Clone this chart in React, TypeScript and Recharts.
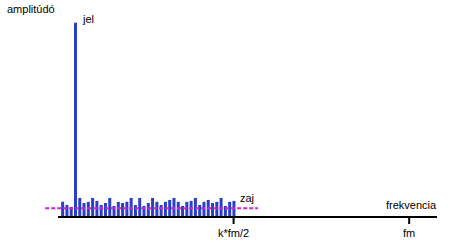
import React from 'react';
import { BarChart, Bar, XAxis, YAxis, ReferenceLine } from 'recharts';

// Spectrum bins (index 1..41); bin 4 carries the signal ("jel"), the rest is noise ("zaj")
const amplitudes = [
  0.078, 0.062, 0.052, 1.0, 0.098, 0.072, 0.078, 0.098, 0.083, 0.062,
  0.072, 0.098, 0.057, 0.078, 0.072, 0.078, 0.098, 0.062, 0.098, 0.057,
  0.072, 0.098, 0.078, 0.062, 0.078, 0.088, 0.098, 0.078, 0.057, 0.078,
  0.083, 0.098, 0.062, 0.078, 0.088, 0.072, 0.078, 0.098, 0.057, 0.078,
  0.083,
];
const tickValues = [41, 82];
const tickLabels = ['k*fm/2', 'fm'];
const noiseLevel = 0.045;
const noiseSpan = [-3, 46.7];

const data = amplitudes.map((a, i) => ({ bin: i + 1, amp: a }));

const font = '"Liberation Sans", Arial, sans-serif';

const labelStyle: React.CSSProperties = {
  position: 'absolute',
  fontFamily: font,
  fontSize: 11,
  lineHeight: '13px',
  color: '#000',
  whiteSpace: 'nowrap',
};

export default function App() {
  return (
    <div style={{ position: 'absolute', left: 0, top: 0, width: 449, height: 245, background: '#fff' }}>
      <BarChart
        width={449}
        height={245}
        data={data}
        margin={{ top: 13, right: 12, left: 58, bottom: 8 }}
        barSize={3}
      >
        <XAxis
          dataKey="bin"
          type="number"
          domain={[0, 88.5]}
          ticks={tickValues}
          tickFormatter={(v: number) => tickLabels[tickValues.indexOf(v)] ?? ''}
          axisLine={{ stroke: '#000', strokeWidth: 2 }}
          tickLine={{ stroke: '#000', strokeWidth: 2 }}
          tickSize={7}
          tickMargin={5}
          height={20}
          tick={{ fill: '#000', fontSize: 11, fontFamily: font }}
          allowDataOverflow
        />
        <YAxis
          domain={[0, 1.05]}
          width={0}
          tick={false}
          tickLine={false}
          axisLine={{ stroke: '#000', strokeWidth: 2 }}
          allowDataOverflow
        />
        <Bar dataKey="amp" fill="#2a3fc4" isAnimationActive={false} />
        <ReferenceLine
          segment={[
            { x: noiseSpan[0], y: noiseLevel },
            { x: noiseSpan[1], y: noiseLevel },
          ]}
          stroke="#d024d0"
          strokeWidth={2}
          strokeDasharray="4 2"
          ifOverflow="visible"
        />
      </BarChart>
      <span style={{ ...labelStyle, left: 7, top: 3 }}>amplitúdó</span>
      <span style={{ ...labelStyle, left: 83, top: 13 }}>jel</span>
      <span style={{ ...labelStyle, left: 240, top: 192 }}>zaj</span>
      <span style={{ ...labelStyle, left: 386, top: 199 }}>frekvencia</span>
    </div>
  );
}
